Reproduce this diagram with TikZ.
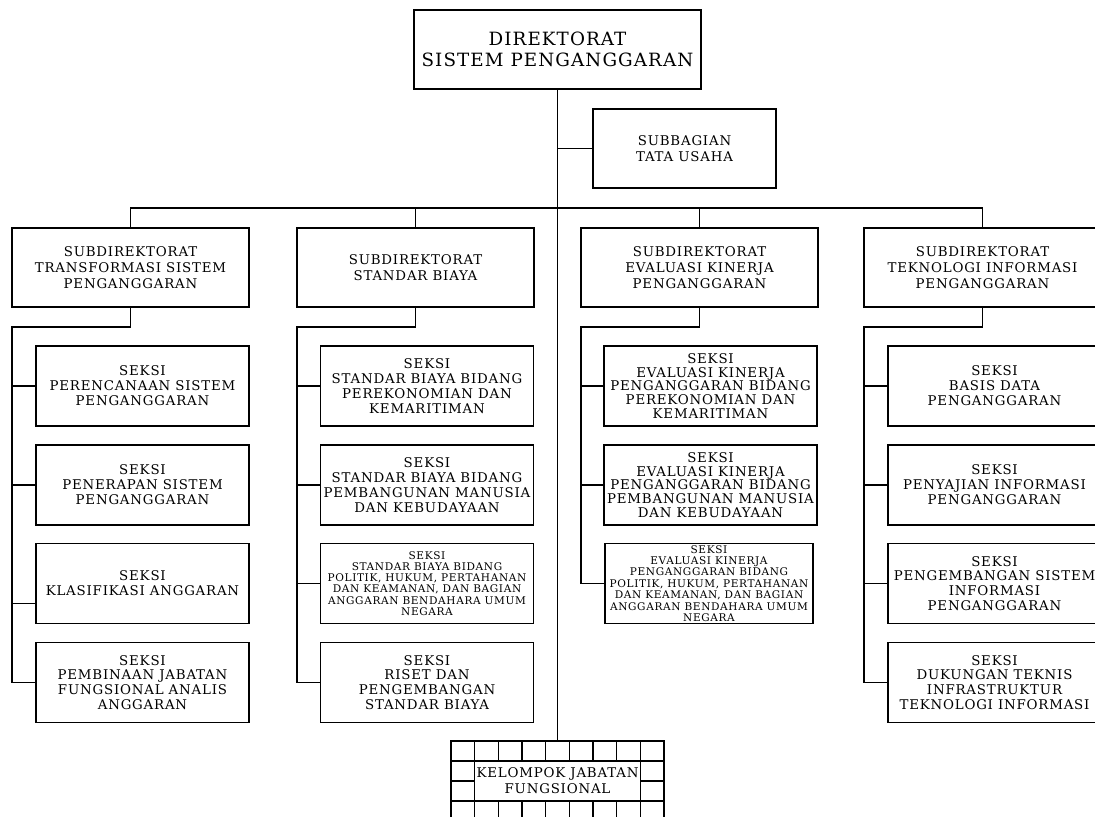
\documentclass[tikz,border=0pt]{standalone}
\usepackage{fontspec}
\setmainfont{DejaVu Serif}[LetterSpace=6]
\begin{document}
\begin{tikzpicture}
[x=0.025cm,y=-0.025cm,
 unitbox/.style={shape=rectangle,draw,line width=0.9pt,align=center,inner sep=0pt},
 dirbox/.style={unitbox,minimum width=7.175cm,minimum height=1.975cm,font=\fontsize{13}{14.5}\selectfont},
 subbox/.style={unitbox,minimum width=5.925cm,minimum height=1.975cm,font=\fontsize{9.5}{11.3}\selectfont},
 seksibox/.style={unitbox,minimum width=5.325cm,minimum height=2cm,font=\fontsize{9.5}{10.6}\selectfont},
 linedecorate/.style={-,line width=0.9pt}]
\useasboundingbox (0,0) rectangle (1095,816);
\clip (0,0) rectangle (1095,816);
%% top nodes
\node (dir) at (557.5,49.5) [dirbox] {DIREKTORAT\\SISTEM PENGANGGARAN};
\node (tu) at (684.5,148.5) [subbox,minimum width=4.575cm] {SUBBAGIAN\\TATA USAHA};
\node (kjf) at (557.5,781) [subbox,minimum width=5.325cm,minimum height=2cm] {KELOMPOK JABATAN\\FUNGSIONAL};
%% subdirektorat
\foreach \nodename/\x/\txt in {sdt/130.5/{SUBDIREKTORAT\\TRANSFORMASI SISTEM\\PENGANGGARAN},
  sds/415.5/{SUBDIREKTORAT\\STANDAR BIAYA},
  sde/699.5/{SUBDIREKTORAT\\EVALUASI KINERJA\\PENGANGGARAN},
  sdi/982.5/{SUBDIREKTORAT\\TEKNOLOGI INFORMASI\\PENGANGGARAN}} {
  \node (\nodename) at (\x,267.5) [subbox] {\txt};
}
%% seksi of subdirektorat transformasi sistem penganggaran
\foreach \nodename/\y/\txt in {st1/386/{SEKSI\\PERENCANAAN SISTEM\\PENGANGGARAN},
  st2/485/{SEKSI\\PENERAPAN SISTEM\\PENGANGGARAN},
  st3/583.5/{SEKSI\\KLASIFIKASI ANGGARAN},
  st4/682.5/{SEKSI\\PEMBINAAN JABATAN\\FUNGSIONAL ANALIS\\ANGGARAN}} {
  \node (\nodename) at (142.5,\y) [seksibox] {\txt};
}
%% seksi of subdirektorat standar biaya
\foreach \nodename/\y/\txt in {ss1/386/{SEKSI\\STANDAR BIAYA BIDANG\\PEREKONOMIAN DAN\\KEMARITIMAN},
  ss2/485/{SEKSI\\STANDAR BIAYA BIDANG\\PEMBANGUNAN MANUSIA\\DAN KEBUDAYAAN},
  ss4/682.5/{SEKSI\\RISET DAN\\PENGEMBANGAN\\STANDAR BIAYA}} {
  \node (\nodename) at (427,\y) [seksibox] {\txt};
}
\node (ss3) at (427,583.5) [seksibox,font=\fontsize{7.5}{7.9}\selectfont]
  {SEKSI\\STANDAR BIAYA BIDANG\\POLITIK, HUKUM, PERTAHANAN\\DAN KEAMANAN, DAN BAGIAN\\ANGGARAN BENDAHARA UMUM\\NEGARA};
%% seksi of subdirektorat evaluasi kinerja penganggaran
\foreach \nodename/\y/\txt in {se1/386/{SEKSI\\EVALUASI KINERJA\\PENGANGGARAN BIDANG\\PEREKONOMIAN DAN\\KEMARITIMAN},
  se2/485/{SEKSI\\EVALUASI KINERJA\\PENGANGGARAN BIDANG\\PEMBANGUNAN MANUSIA\\DAN KEBUDAYAAN}} {
  \node (\nodename) at (710.5,\y) [seksibox,font=\fontsize{9.5}{9.7}\selectfont] {\txt};
}
\node (se3) at (709,583.5) [seksibox,minimum width=5.2cm,font=\fontsize{7.5}{8.1}\selectfont]
  {SEKSI\\EVALUASI KINERJA\\PENGANGGARAN BIDANG\\POLITIK, HUKUM, PERTAHANAN\\DAN KEAMANAN, DAN BAGIAN\\ANGGARAN BENDAHARA UMUM\\NEGARA};
%% seksi of subdirektorat teknologi informasi penganggaran
\foreach \nodename/\y/\txt in {si1/386/{SEKSI\\BASIS DATA\\PENGANGGARAN},
  si2/485/{SEKSI\\PENYAJIAN INFORMASI\\PENGANGGARAN},
  si3/583.5/{SEKSI\\PENGEMBANGAN SISTEM\\INFORMASI\\PENGANGGARAN},
  si4/682.5/{SEKSI\\DUKUNGAN TEKNIS\\INFRASTRUKTUR\\TEKNOLOGI INFORMASI}} {
  \node (\nodename) at (994.5,\y) [seksibox] {\txt};
}
%% lines from the direktorat
\coordinate (bus) at (557.5,208);
\draw[linedecorate] (dir.south) -- (kjf.north);
\draw[linedecorate] (dir.south |- tu.west) -- (tu.west);
\draw[linedecorate] (sdt.north) |- (bus) -| (sdi.north);
\foreach \nodename in {sds,sde} {
  \draw[linedecorate] (\nodename.north) -- (\nodename.north |- bus);
}
%% lines down to the seksi
\foreach \col/\x in {kt/12, ks/297, ke/581, ki/864} {
  \coordinate (\col) at (\x,327);
}
\coordinate (st3c) at ([yshift=-0.5cm]st3.west);
\draw[linedecorate] (sdt.south) |- (kt) -- (kt |- st4.west);
\draw[linedecorate] (sds.south) |- (ks) -- (ks |- ss4.west);
\draw[linedecorate] (sde.south) |- (ke) -- (ke |- se3.west);
\draw[linedecorate] (sdi.south) |- (ki) -- (ki |- si4.west);
\path
\foreach \col/\nodename in {kt/st1, kt/st2, kt/st4, ks/ss1, ks/ss2, ks/ss3, ks/ss4,
  ke/se1, ke/se2, ke/se3, ki/si1, ki/si2, ki/si3, ki/si4} {
  (\col |- \nodename.west) edge[linedecorate] (\nodename.west)
};
\draw[linedecorate] (kt |- st3c) -- (st3c);
%% grid round kelompok jabatan fungsional
\foreach \i in {1,...,8} {
  \draw[linedecorate] ({451+\i*23.667},741) -- ++(0,20) ({451+\i*23.667},801) -- ++(0,20);
}
\draw[linedecorate] (451,761) -- (664,761) (451,801) -- (664,801)
  (451,781) -- (474.67,781) (640.33,781) -- (664,781)
  (474.67,761) -- (474.67,801) (640.33,761) -- (640.33,801);
\end{tikzpicture}
\end{document}
